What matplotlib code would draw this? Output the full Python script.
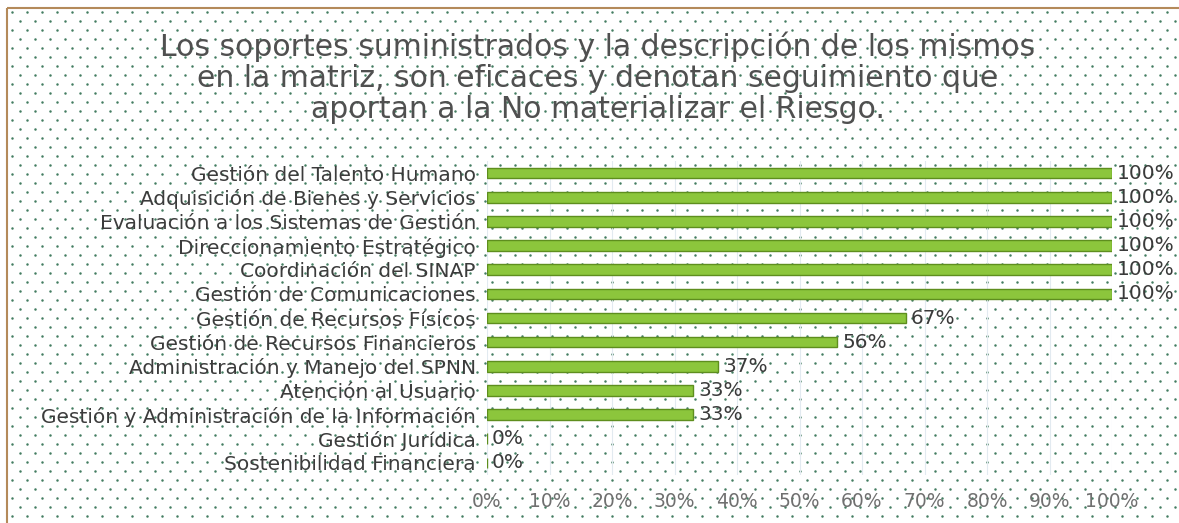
import matplotlib
matplotlib.use("Agg")
import matplotlib.pyplot as plt
import numpy as np
from matplotlib.patches import Rectangle

categories = [
    "Gestión del Talento Humano",
    "Adquisición de Bienes y Servicios",
    "Evaluación a los Sistemas de Gestión",
    "Direccionamiento Estratégico",
    "Coordinación del SINAP",
    "Gestión de Comunicaciones",
    "Gestión de Recursos Físicos",
    "Gestión de Recursos Financieros",
    "Administración y Manejo del SPNN",
    "Atención al Usuario",
    "Gestión y Administración de la Información",
    "Gestión Jurídica",
    "Sostenibilidad Financiera",
]
values = [1.00, 1.00, 1.00, 1.00, 1.00, 1.00, 0.67, 0.56, 0.37, 0.33, 0.33, 0.0, 0.0]
xticks = [0, 0.1, 0.2, 0.3, 0.4, 0.5, 0.6, 0.7, 0.8, 0.9, 1.0]
title = ("Los soportes suministrados y la descripción de los mismos\n"
         "en la matriz, son eficaces y denotan seguimiento que\n"
         "aportan a la No materializar el Riesgo.")

plt.rcParams['font.family'] = ['DejaVu Sans']

W, H = 1179, 523
fig = plt.figure(figsize=(W / 100, H / 100), dpi=100)
fig.patch.set_facecolor('white')

# background panel: dotted texture with a tan border on left/top
bgax = fig.add_axes([0, 0, 1, 1], zorder=-5)
bgax.set_xlim(0, W)
bgax.set_ylim(H, 0)
bgax.axis('off')
rows = np.arange(12, H + 9, 9.0)
xs, ys = [], []
for i, yy in enumerate(rows):
    start = 12 if i % 2 == 0 else 19.5
    cols = np.arange(start, W, 15.0)
    xs.extend(cols)
    ys.extend([yy] * len(cols))
bgax.scatter(xs, ys, s=3.2, color='#2f6f50', linewidths=0, alpha=0.9)
bgax.add_patch(Rectangle((7, 8), W + 20, H + 20, facecolor='none',
                         edgecolor='#b48a5a', linewidth=1.5))

ax = fig.add_axes([487 / W, 1 - 475 / H, (1112 - 487) / W, (475 - 161) / H])
ax.patch.set_alpha(0)
ypos = list(range(len(categories)))
ax.barh(ypos, values, height=0.44, color='#8cc63c', edgecolor='#5e8e1e', linewidth=1.0, zorder=3)
for y, v in zip(ypos, values):
    ax.text(v + 0.008, y, f"{v * 100:.0f}%", va='center', ha='left', fontsize=14.5,
            color='#3a3a3a', zorder=4)

ax.set_ylim(len(categories) - 0.5, -0.5)
ax.set_xlim(0, 1.0)
ax.set_yticks(ypos)
ax.set_yticklabels(categories, fontsize=14.5, color='#3c3c3c')
ax.set_xticks(xticks)
ax.set_xticklabels([f"{t * 100:.0f}%" for t in xticks], fontsize=13.5, color='#707070')
ax.tick_params(axis='both', length=0)
ax.tick_params(axis='y', pad=8)
ax.tick_params(axis='x', pad=12)
for s in ax.spines.values():
    s.set_visible(False)
ax.grid(axis='x', color='#e2eaf0', linewidth=0.8, zorder=1)
ax.set_axisbelow(True)

fig.text(598 / W, 1 - 31 / H, title, ha='center', va='top', fontsize=21.5,
         color='#505050', linespacing=1.1)

fig.savefig('out.png', dpi=100)
